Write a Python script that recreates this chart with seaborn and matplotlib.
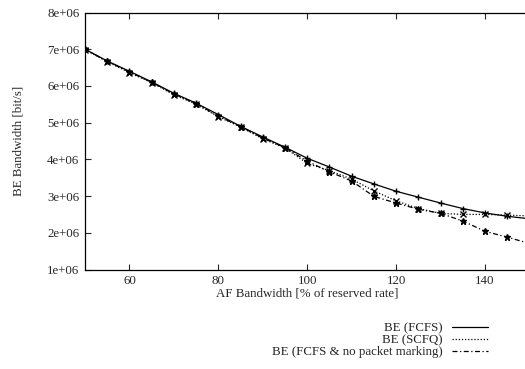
import pandas as pd
import matplotlib
matplotlib.use("Agg")
import matplotlib.pyplot as plt
from matplotlib.lines import Line2D
import seaborn as sns

# AF bandwidth in % of reserved rate
af_bw = [50, 55, 60, 65, 70, 75, 80, 85, 90, 95, 100,
         105, 110, 115, 120, 125, 130, 135, 140, 145, 150]

# BE bandwidth [bit/s] (in 1e6)
be_fcfs = [7.00, 6.68, 6.40, 6.11, 5.80, 5.53, 5.22, 4.90, 4.61, 4.33, 4.03,
           3.79, 3.54, 3.33, 3.13, 2.97, 2.81, 2.66, 2.54, 2.45, 2.38]
be_scfq = [6.99, 6.66, 6.36, 6.09, 5.76, 5.50, 5.16, 4.88, 4.56, 4.31, 3.89,
           3.69, 3.46, 3.14, 2.87, 2.66, 2.53, 2.50, 2.50, 2.48, 2.46]
be_nomark = [7.00, 6.67, 6.38, 6.10, 5.78, 5.52, 5.18, 4.89, 4.58, 4.32, 3.95,
             3.66, 3.41, 2.99, 2.81, 2.64, 2.53, 2.32, 2.04, 1.88, 1.71]

labels = ["BE (FCFS)", "BE (SCFQ)", "BE (FCFS & no packet marking)"]
styles = ["-", (0, (1, 1.5)), (0, (4, 2, 1, 2))]
markers = ["+", "x", "*"]

df = pd.DataFrame({"af": af_bw * 3,
                   "be": [v * 1e6 for v in be_fcfs + be_scfq + be_nomark],
                   "series": sum([[l] * len(af_bw) for l in labels], [])})

sns.set_style("ticks")
plt.rcParams["font.family"] = ["Liberation Serif", "DejaVu Serif"]
fs = 9.3

fig = plt.figure(figsize=(5.25, 3.69), dpi=100)
ax = fig.add_axes([85 / 525, 1 - 269.5 / 369, 444.5 / 525, 257 / 369])

for lab, ls, mk in zip(labels, styles, markers):
    sub = df[df["series"] == lab]
    sns.lineplot(data=sub, x="af", y="be", ax=ax, color="black",
                 linestyle=ls, linewidth=0.9, marker=mk, markersize=4.5,
                 markeredgewidth=1.0, markeredgecolor="black", legend=False)

ax.set_xlim(50, 150)
ax.set_ylim(1e6, 8e6)
ax.set_xticks([60, 80, 100, 120, 140])
ax.set_yticks([1e6, 2e6, 3e6, 4e6, 5e6, 6e6, 7e6, 8e6])
ax.set_yticklabels([f"{i}e+06" for i in range(1, 9)])
ax.tick_params(direction="in", length=4, width=0.8, top=True, right=False,
               labelsize=fs, pad=4)
for s in ax.spines.values():
    s.set_linewidth(0.9)
    s.set_color("black")

ax.set_xlabel("AF Bandwidth [% of reserved rate]", fontsize=fs, labelpad=0)
ax.set_ylabel("BE Bandwidth [bit/s]", fontsize=fs, labelpad=16)

handles = [Line2D([], [], color="black", linestyle=ls, linewidth=0.9)
           for ls in styles]
fig.legend(handles, labels, loc="upper right",
           bbox_to_anchor=(488 / 525, 1 - 322 / 369),
           frameon=False, markerfirst=False, handlelength=2.8,
           handletextpad=0.7, labelspacing=0.0, fontsize=fs,
           borderpad=0, borderaxespad=0)

fig.savefig("out.png", dpi=100)
